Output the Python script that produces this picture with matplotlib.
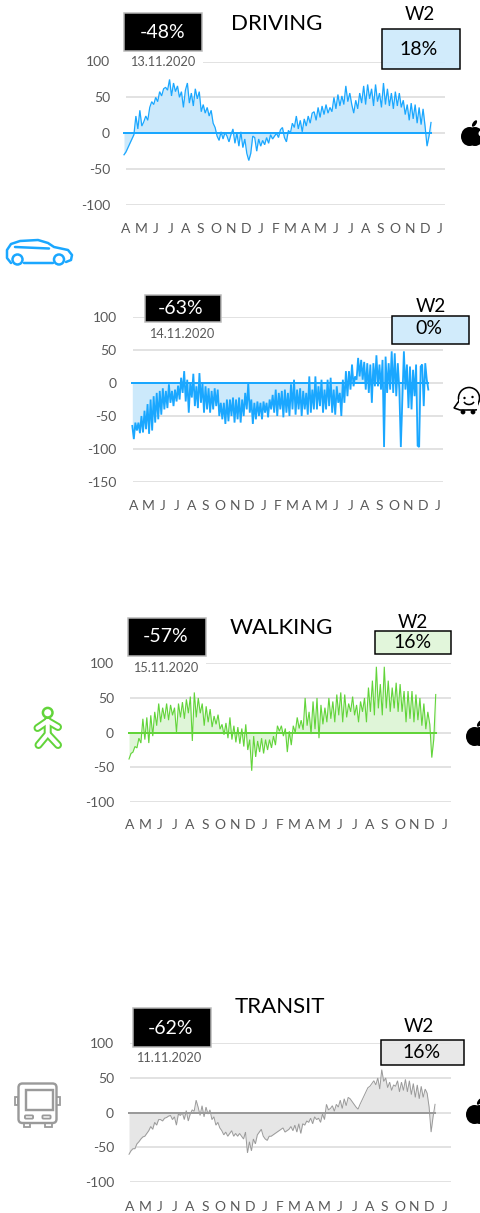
import numpy as np
import matplotlib
matplotlib.use("Agg")
import matplotlib.pyplot as plt
from matplotlib.patches import Rectangle, Circle, Ellipse, FancyBboxPatch, Arc, Polygon

plt.rcParams['font.family'] = ['Lato', 'DejaVu Sans']
plt.rcParams['axes.unicode_minus'] = False

W, H = 481, 1213
months = list("AMJJASONDJFMAMJJASONDJ")

driving = [
 -30,-26,-20,-14,-8,-2,24,6,
 32,10,16,24,18,36,44,40,
 50,44,58,52,62,64,60,75,
 52,70,58,66,50,58,36,60,
 70,42,56,38,62,48,58,30,
 40,28,36,24,32,14,8,-4,
 -10,2,-8,1,-4,-12,-2,6,
 -14,0,-18,2,-20,-8,-28,-38,
 -28,-4,-6,-25,-8,-18,-10,-16,
 -6,-14,-2,-8,-4,0,-6,5,
 8,-6,-12,4,0,14,8,24,
 6,18,2,20,10,24,14,28,
 30,18,36,22,38,26,40,28,
 36,30,50,34,54,38,52,40,
 66,44,56,40,28,46,34,56,
 42,66,40,68,48,62,38,68,
 44,56,36,70,40,62,38,56,
 34,58,38,56,36,46,26,40,
 18,42,20,40,14,36,12,34,
 10,-18,-4,15]

waze = [
 -65,-85,-60,-72,-60,-76,-50,-75,-42,-70,
 -32,-77,-25,-72,-20,-60,-15,-55,-12,-48,
 -8,-40,-12,-38,-2,-30,-12,-35,-10,-28,
 -4,-25,8,-15,18,-28,5,-45,0,-22,
 14,-35,-5,-38,15,-30,0,-45,-5,-40,
 -8,-45,-12,-40,-8,-35,-10,-50,-30,-55,
 -30,-62,-25,-58,-25,-50,-22,-60,-25,-55,
 -22,-60,-25,-50,-15,-40,0,-45,-25,-62,
 -30,-55,-28,-50,-30,-55,-28,-45,-30,-52,
 -25,-40,-18,-45,-10,-50,-15,-40,-12,-52,
 -10,-45,-15,-50,-2,-40,5,-48,-10,-40,
 -8,-50,-12,-40,-15,-48,10,-45,-10,-40,
 10,-40,-5,-35,5,-45,-10,-40,5,-35,
 8,-45,-10,-48,-5,-30,-15,-50,5,-30,
 18,-20,18,-10,28,-5,10,5,38,10,
 35,5,32,-10,30,-15,28,-30,30,-5,
 42,-5,28,-10,35,-97,40,-15,30,-10,
 48,-15,45,-20,30,-10,-97,-25,48,-10,
 28,-38,25,-40,20,-20,28,-95,-97,25,
 28,-35,30,5,-10]

walking = [
 -38,-30,-28,-20,-22,-8,-15,20,
 -10,22,-15,25,-5,30,10,42,
 15,36,20,42,18,40,25,36,
 0,42,22,44,20,48,28,52,
 -12,58,22,50,28,42,10,38,
 15,34,8,24,12,26,5,12,
 -3,14,-8,22,-10,10,-14,8,
 -16,6,-20,12,-25,-10,-55,-5,
 -35,-12,-28,-8,-30,-10,-25,-10,
 -22,-5,-18,10,2,10,-5,6,
 -28,2,-18,10,0,22,6,18,
 4,50,10,30,-2,45,5,50,
 -8,40,12,36,15,50,20,45,
 15,55,25,58,15,55,22,42,
 30,52,25,40,15,45,30,50,
 15,65,30,75,25,95,35,70,
 25,95,35,75,30,65,35,72,
 30,70,30,60,15,60,20,60,
 15,55,18,50,10,42,5,30,
 12,-36,-10,55]

transit = [
 -60,-55,-52,-52,-45,-42,-38,-35,
 -34,-30,-26,-20,-24,-14,-18,-10,
 -10,-12,-8,-7,-5,-4,-10,-6,
 -18,-2,-4,0,-10,3,-12,-2,
 4,2,18,8,-4,10,-6,8,
 -2,4,-10,-6,-18,-14,-22,-26,
 -32,-28,-34,-30,-26,-34,-30,-34,
 -30,-34,-38,-28,-58,-42,-55,-38,
 -45,-32,-28,-24,-34,-38,-40,-34,
 -34,-32,-30,-28,-26,-24,-22,-28,
 -26,-24,-20,-26,-18,-28,-16,-30,
 -16,-18,-12,-14,-8,-16,-6,-10,
 -8,-14,-2,-10,12,4,6,10,
 2,12,8,18,6,20,10,22,
 20,16,12,8,5,12,18,24,
 30,36,38,42,46,40,50,34,
 62,45,50,36,44,32,40,38,
 46,30,44,32,48,30,46,26,
 42,22,40,20,38,22,34,28,
 8,-28,-6,12]

BLUE, GREEN, GRAY = '#1aa7ff', '#62d43a', '#9a9a9a'
LBLUE, LGREEN, LGRAY = '#cce9fb', '#dff5d8', '#e6e6e6'
TXT = '#595959'
px = 72 / 100

fig = plt.figure(figsize=(W / 100, H / 100), dpi=100, facecolor='white')

def make_chart(vals, yticks, top, bottom, left, right, lab0, step, d0, d1, line, fill, lw, pad):
    ax = fig.add_axes([left / W, 1 - bottom / H, (right - left) / W, (bottom - top) / H])
    ax.set_facecolor('none')
    ax.set_ylim(yticks[0], yticks[-1])
    ax.set_xlim((left - lab0) / step, (right - lab0) / step)
    x = np.linspace((d0 - lab0) / step, (d1 - lab0) / step, len(vals))
    ax.set_yticks(yticks)
    ax.set_xticks(range(len(months)))
    ax.set_xticklabels(months)
    ax.grid(False)
    ax.yaxis.grid(True, color='#d9d9d9', lw=1.5 * px)
    ax.set_axisbelow(True)
    for s in ax.spines.values():
        s.set_visible(False)
    ax.tick_params(axis='y', length=0, pad=11.5, labelsize=10, labelcolor=TXT)
    ax.tick_params(axis='x', length=0, pad=pad, labelsize=10, labelcolor=TXT)
    for t in ax.get_xticklabels():
        t.set_clip_on(False)
    ax.fill_between(x, vals, 0, color=fill, lw=0, clip_on=False)
    ax.plot(x, vals, color=line, lw=lw, clip_on=False, solid_joinstyle='miter')
    ax.plot([x[0], x[-1]], [0, 0], color=line, lw=2 * px, clip_on=False)
    return ax

make_chart(driving, [-100, -50, 0, 50, 100], 61.5, 205, 126, 445, 126, 14.95, 124, 431, BLUE, LBLUE, 0.9, 13)
make_chart(waze, [-150, -100, -50, 0, 50, 100], 317, 482, 132.7, 442.7, 133.3, 14.48, 132.3, 428.3, BLUE, LBLUE, 1.3, 13)
make_chart(walking, [-100, -50, 0, 50, 100], 663.3, 802, 130, 450.7, 129.3, 15.0, 128.3, 435.7, GREEN, LGREEN, 0.8, 12.5)
make_chart(transit, [-100, -50, 0, 50, 100], 1043.3, 1182, 130, 450.7, 129.3, 15.0, 128.3, 435, GRAY, LGRAY, 0.7, 13.5)

ov = fig.add_axes([0, 0, 1, 1], facecolor='none')
ov.set_xlim(0, W)
ov.set_ylim(H, 0)
ov.axis('off')

def box(x0, y0, x1, y1, fc, ec, lw, z=3):
    ov.add_patch(Rectangle((x0, y0), x1 - x0, y1 - y0, facecolor=fc, edgecolor=ec, lw=lw * px, zorder=z))

def label(x, y, s, size, color='black', z=5):
    ov.text(x, y, s, fontsize=size, color=color, ha='center', va='center', zorder=z)

panels = [
 dict(mask=(124, 50, 203, 72), bb=(124, 12.7, 202, 50.7), pct='-48%', pc=(163, 32), date='13.11.2020', dc=(163, 62),
      w2=(420, 14), wb=(382, 29, 460, 69), wv='18%', wc=(419, 49.5), wf=LBLUE, title='DRIVING', tc=(277, 24)),
 dict(mask=None, bb=(144.7, 295, 220.7, 322.3), pct='-63%', pc=(181, 308.5), date='14.11.2020', dc=(182, 334.5),
      w2=(431, 307), wb=(391.7, 316, 469.3, 343.7), wv='0%', wc=(429, 329), wf=LBLUE, title=None, tc=None),
 dict(mask=(128, 656, 206, 680), bb=(128, 618.3, 206, 656), pct='-57%', pc=(166, 636), date='15.11.2020', dc=(166, 668.5),
      w2=(413, 623), wb=(375, 631, 451, 654), wv='16%', wc=(413, 642.5), wf=LGREEN, title='WALKING', tc=(281, 628)),
 dict(mask=None, bb=(132.7, 1008.3, 210.7, 1046.7), pct='-62%', pc=(171, 1029), date='11.11.2020', dc=(169, 1058),
      w2=(419, 1026), wb=(381, 1040, 464, 1064.7), wv='16%', wc=(422, 1052), wf=LGRAY, title='TRANSIT', tc=(280, 1007)),
]
for p in panels:
    if p['mask']:
        m = p['mask']
        box(m[0], m[1], m[2], m[3], 'white', 'none', 0, z=2)
    b = p['bb']
    box(b[0], b[1], b[2], b[3], 'black', '#b8b8b8', 1.5)
    label(*p['pc'], p['pct'], 14, 'white')
    label(*p['dc'], p['date'], 9.2, TXT)
    label(*p['w2'], 'W2', 13.5)
    wb = p['wb']
    fc = matplotlib.colors.to_rgba(p['wf'], 0.9)
    box(wb[0], wb[1], wb[2], wb[3], fc, 'black', 1.5)
    label(*p['wc'], p['wv'], 14)
    if p['title']:
        label(*p['tc'], p['title'], 16)

# --- icons ---
def pl(xs, ys, c, lw, z=6, **k):
    ov.plot(xs, ys, color=c, lw=lw * px, zorder=z, solid_capstyle='round', solid_joinstyle='round', **k)

# car
car = [(11, 263), (7, 258), (7, 250), (11, 244), (20, 241), (38, 240), (48, 243), (54, 247), (68, 250), (72, 255), (71, 260), (66, 262)]
pl(*zip(*car), BLUE, 2.5)
pl([24, 53], [263, 263], BLUE, 2.5)
pl([15, 49], [247, 248.5], BLUE, 2.5)
for cx in (17.5, 59):
    ov.add_patch(Circle((cx, 259.5), 5, fc='white', ec=BLUE, lw=2.5 * px, zorder=7))

# walker
segs = [([47.7, 47.7, 38.5], [721, 734, 745]), ([47.7, 58], [734, 745]), ([47.7, 37.5], [721, 728]), ([47.7, 58], [721, 727])]
for xs, ys in segs:
    pl(xs, ys, GREEN, 8)
for xs, ys in segs:
    pl(xs, ys, 'white', 4, z=7)
ov.add_patch(Circle((47.7, 712.7), 4.8, fc='white', ec=GREEN, lw=2.5 * px, zorder=8))

# bus
BC = '#9a9a9a'
for x0 in (15, 56.5):
    ov.add_patch(Rectangle((x0, 1097), 3.5, 8, fc='white', ec=BC, lw=1.8 * px, zorder=5))
for x0 in (24, 45.5):
    ov.add_patch(Rectangle((x0, 1122), 6.5, 5, fc='white', ec=BC, lw=1.8 * px, zorder=5))
ov.add_patch(FancyBboxPatch((21, 1086), 33, 34.5, boxstyle='round,pad=2.5,rounding_size=4', fc='white', ec=BC, lw=2.4 * px, zorder=6))
ov.add_patch(Rectangle((25.7, 1090), 27, 20, fc='white', ec=BC, lw=2.4 * px, zorder=7))
for x0 in (25.5, 43):
    ov.add_patch(FancyBboxPatch((x0, 1116), 7, 2, boxstyle='round,pad=0.6,rounding_size=1', fc='white', ec=BC, lw=1.8 * px, zorder=7))

# apple logo: x = left edge, y = top of the body
def apple(x, y):
    ov.add_patch(Ellipse((x + 8.5, y + 9.5), 17, 19, fc='black', ec='none', zorder=6))
    ov.add_patch(Ellipse((x + 14, y + 9.5), 17, 19, fc='black', ec='none', zorder=6))
    ov.add_patch(Circle((x + 20.5, y + 6.5), 3, fc='white', ec='none', zorder=7))
    ov.add_patch(Ellipse((x + 13.5, y - 3.5), 3.5, 7.5, angle=35, fc='black', ec='none', zorder=6))

apple(461, 127)
apple(466, 727)
apple(466, 1105)

# waze logo
ov.add_patch(Polygon([(459, 401), (454, 408), (460, 410), (476, 410), (479, 400)], closed=True, fc='white', ec='black', lw=1.6 * px, zorder=6))
ov.add_patch(Circle((469, 398), 10.5, fc='white', ec='black', lw=1.6 * px, zorder=6))
ov.add_patch(Rectangle((459.5, 399), 18.5, 10, fc='white', ec='none', zorder=6.5))
for cx in (463, 473):
    ov.add_patch(Circle((cx, 412), 2.4, fc='black', ec='none', zorder=7))
for cx, cy in ((464.5, 398), (472.5, 397)):
    ov.add_patch(Circle((cx, cy), 1.2, fc='black', ec='none', zorder=7))
ov.add_patch(Arc((469, 401), 10, 7, theta1=10, theta2=170, ec='black', lw=1.6 * px, zorder=7))

fig.savefig('out.png', dpi=100)
